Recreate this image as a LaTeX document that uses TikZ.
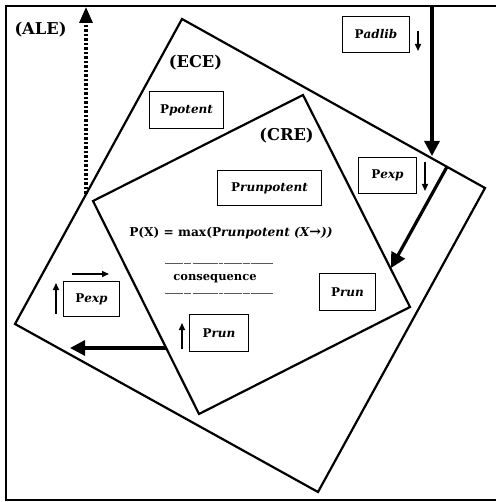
\documentclass[tikz,border=0pt]{standalone}
\usepackage{fontspec}
\setmainfont{DejaVu Serif}
\usetikzlibrary{arrows.meta}
\tikzset{
  region/.style={line width=2.2pt, line join=miter},
  frame/.style={line width=2.4pt},
  pbox/.style={draw, line width=1.3pt, inner sep=0pt, font=\fontsize{12}{14}\selectfont\bfseries},
  lbl/.style={inner sep=0pt, font=\fontsize{16.3}{19}\selectfont\bfseries},
  bigarrow/.style={line width=3.2pt, -{Triangle[length=15pt,width=15pt]}},
  dotarrow/.style={line width=3.2pt, dash pattern=on 2.5pt off 2pt, -{Triangle[length=16pt,width=13pt]}},
  smallarrow/.style={line width=1.4pt, -{Triangle[length=7pt,width=6pt]}},
  fracline/.style={line width=1pt, black!65, dash pattern=on 18pt off 1pt on 7pt off 1.5pt on 25pt off 1pt on 4pt off 1pt},
}
\begin{document}
\begin{tikzpicture}[x=1pt,y=-1pt]
\useasboundingbox (0,0) rectangle (495,502);
% outer frame (right side outside picture)
\coordinate (fTR) at (497,6);
\coordinate (fTL) at (6,6);
\coordinate (fBL) at (6,500);
\coordinate (fBR) at (497,500);
\draw[frame] (fTR) -- (fTL) -- (fBL) -- (fBR);
% ECE square
\coordinate (eT) at (182,19);
\coordinate (eR) at (485,188);
\coordinate (eB) at (318,492);
\coordinate (eL) at (15,324);
\draw[region] (eT) -- (eR) -- (eB) -- (eL) -- cycle;
% CRE rectangle
\coordinate (cT) at (303,95);
\coordinate (cR) at (410,307);
\coordinate (cB) at (199,414);
\coordinate (cL) at (93,201);
\draw[region] (cT) -- (cR) -- (cB) -- (cL) -- cycle;
% labels
\node[lbl] (ale) at (40.5,30) {(ALE)};
\node[lbl] (ece) at (195.5,63) {(ECE)};
\node[lbl] (cre) at (286.5,136) {(CRE)};
% boxes
\node[pbox, minimum width=67pt, minimum height=36pt] (padlib) at (376,34.5) {P\textit{adlib}};
\node[pbox, minimum width=74pt, minimum height=37pt] (ppotent) at (186.5,110) {P\textit{potent}};
\node[pbox, minimum width=104pt, minimum height=35pt] (prunpotent) at (269.5,188) {P\textit{runpotent}};
\node[pbox, minimum width=58pt, minimum height=36pt] (pexpR) at (387.5,175.5) {P\textit{exp}};
\node[pbox, minimum width=56pt, minimum height=35pt] (pexpL) at (91.5,299) {P\textit{exp}};
\node[pbox, minimum width=59pt, minimum height=37pt] (prunL) at (219,333) {P\textit{run}};
\node[pbox, minimum width=56pt, minimum height=37pt] (prunR) at (347.5,292) {P\textit{run}};
% formula
\node[inner sep=0pt, font=\fontsize{12.2}{14}\selectfont\bfseries] (formula) at (231,233)
  {P(X) = max(P\textit{runpotent (X{\fontsize{14}{14}\selectfont →}))}};
\node[inner sep=0pt, font=\fontsize{11.5}{14}\selectfont\bfseries] (conseq) at (215,279) {consequence};
\coordinate (l1a) at (165,263); \coordinate (l1b) at (273,263);
\coordinate (l2a) at (165,293); \coordinate (l2b) at (273,293);
\draw[fracline] (l1a) -- (l1b);
\draw[fracline] (l2a) -- (l2b);
% big arrows
\coordinate (adlibTop) at (432,6);
\coordinate (adlibEnd) at (432,156);
\draw[bigarrow] (adlibTop) -- (adlibEnd);
\coordinate (expStart) at (447,166.8);
\coordinate (expEnd) at (391,268);
\draw[bigarrow] (expStart) -- (expEnd);
\coordinate (runStart) at (166,348);
\coordinate (runEnd) at (70,348);
\draw[bigarrow] (runStart) -- (runEnd);
\coordinate (dotStart) at (86,194);
\coordinate (dotEnd) at (86,7);
\draw[dotarrow] (dotStart) -- (dotEnd);
% small arrows
\coordinate (sa1a) at (418,31); \coordinate (sa1b) at (418,51);
\draw[smallarrow] (sa1a) -- (sa1b);
\coordinate (sa2a) at (425,162); \coordinate (sa2b) at (425,191);
\draw[smallarrow] (sa2a) -- (sa2b);
\coordinate (sa3a) at (56,314); \coordinate (sa3b) at (56,283);
\draw[smallarrow] (sa3a) -- (sa3b);
\coordinate (sa4a) at (72,274); \coordinate (sa4b) at (109,274);
\draw[smallarrow] (sa4a) -- (sa4b);
\coordinate (sa5a) at (182,349); \coordinate (sa5b) at (182,323);
\draw[smallarrow] (sa5a) -- (sa5b);
\end{tikzpicture}
\end{document}
